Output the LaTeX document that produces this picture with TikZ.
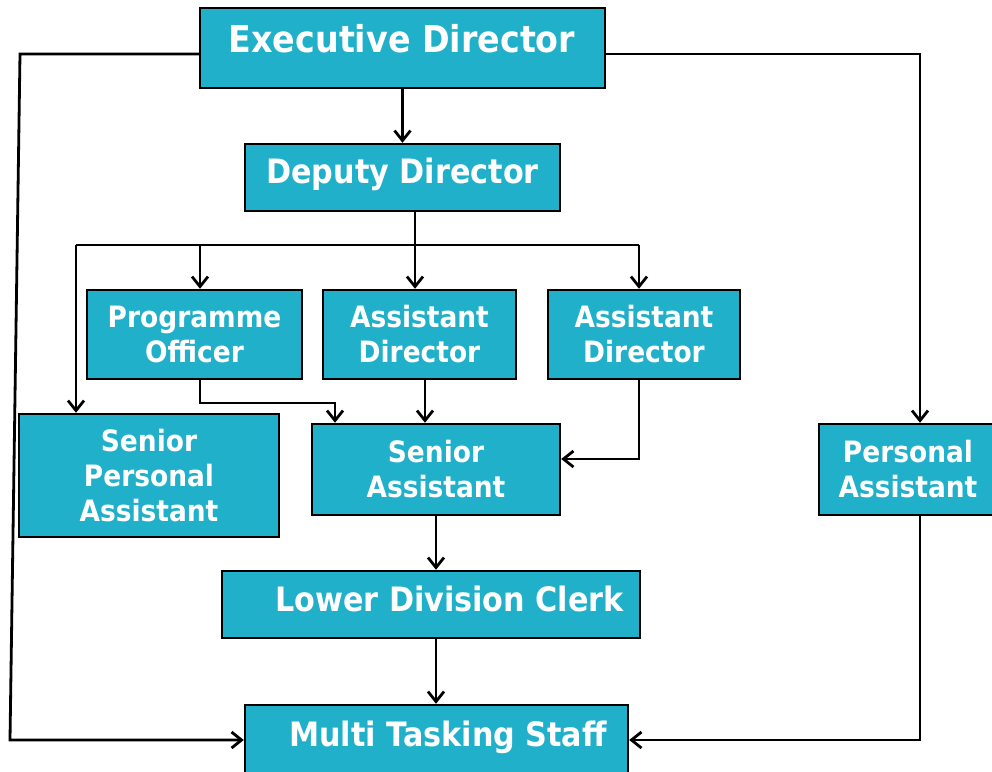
\documentclass[tikz,border=0pt]{standalone}
\usepackage{fontspec}
\setmainfont{DejaVu Sans}[FakeStretch=0.9]
\usetikzlibrary{arrows.meta}
\definecolor{boxfill}{HTML}{21B0C9}
\begin{document}
\begin{tikzpicture}[x=0.5pt,y=-0.5pt,
  box/.style={draw=black, line width=1.2pt, fill=boxfill, inner sep=0pt, text=white,
    font=\bfseries\fontsize{14.7}{17.5}\selectfont, align=center},
  sz/.style 2 args={minimum width=#1*0.5pt, minimum height=#2*0.5pt},
  biglbl/.style={text=white, inner sep=0pt, anchor=base, font=\bfseries\fontsize{18.5}{22}\selectfont},
  midlbl/.style={text=white, inner sep=0pt, anchor=base, font=\bfseries\fontsize{16.8}{20}\selectfont},
  conn/.style={line width=1.4pt, -{Straight Barb[length=5pt,width=8pt]}},
  plain/.style={line width=1.4pt}]
\path[use as bounding box, fill=white] (0,0) rectangle (992,772);

% boxes
\node[box, sz={405}{80}] (ed) at (402.5,48) {};
\node[biglbl] (edt) at (402,52) {Executive Director};
\node[box, sz={315}{67}] (dd) at (402.5,177.5) {};
\node[midlbl] (ddt) at (402.5,183) {Deputy Director};
\node[box, sz={215}{89}] (po) at (194.5,334.5) {Programme\\Officer};
\node[box, sz={193}{89}] (ad1) at (419.5,334.5) {Assistant\\Director};
\node[box, sz={192}{89}] (ad2) at (644,334.5) {Assistant\\Director};
\node[box, sz={260}{123}] (spa) at (149,475.5) {Senior\\Personal\\Assistant};
\node[box, sz={248}{91}] (sa) at (436,469.5) {Senior\\Assistant};
\node[box, sz={178}{91}] (pa) at (908,469.5) {Personal\\Assistant};
\node[box, sz={418}{67}] (ldc) at (431,604.5) {};
\node[midlbl] (ldct) at (449.5,611) {Lower Division Clerk};
\node[box, sz={383}{74}] (mts) at (436.5,742) {};
\node[midlbl] (mtst) at (448,746) {Multi Tasking Staff};

% bend points
\coordinate (c1) at (20,54);
\coordinate (c2) at (10,740);
\coordinate (c3) at (920,54);
\coordinate (c4) at (920,740);
\coordinate (cD) at (415,245);
\coordinate (cBL) at (76,245);
\coordinate (cBR) at (639,245);
\coordinate (cPO) at (200,245);
\coordinate (cP1) at (200,403);
\coordinate (cP2) at (335,403);
\coordinate (cA) at (425,403);
\coordinate (cR) at (639,459);
\coordinate (cM) at (436,650);

% connectors
\draw[conn] (ed.west |- c1) -- (c1) -- (c2) -- (mts.west |- c2);
\draw[conn] (ed.east |- c3) -- (c3) -- (pa.north -| c3);
\draw[conn] (ed.south) -- (dd.north);
\draw[conn] (dd.south -| cD) -- (ad1.north -| cD);
\draw[plain] (cBL) -- (cBR);
\draw[conn] (cBL) -- (spa.north -| cBL);
\draw[conn] (cPO) -- (po.north -| cPO);
\draw[conn] (cBR) -- (ad2.north -| cBR);
\draw[conn] (po.south -| cP1) -- (cP1) -- (cP2) -- (sa.north -| cP2);
\draw[conn] (ad1.south -| cA) -- (sa.north -| cA);
\draw[conn] (ad2.south -| cR) -- (cR) -- (sa.east |- cR);
\draw[conn] (sa.south -| cM) -- (ldc.north -| cM);
\draw[conn] (ldc.south -| cM) -- (mts.north -| cM);
\draw[conn] (pa.south -| c4) -- (c4) -- (mts.east |- c4);
\end{tikzpicture}
\end{document}
